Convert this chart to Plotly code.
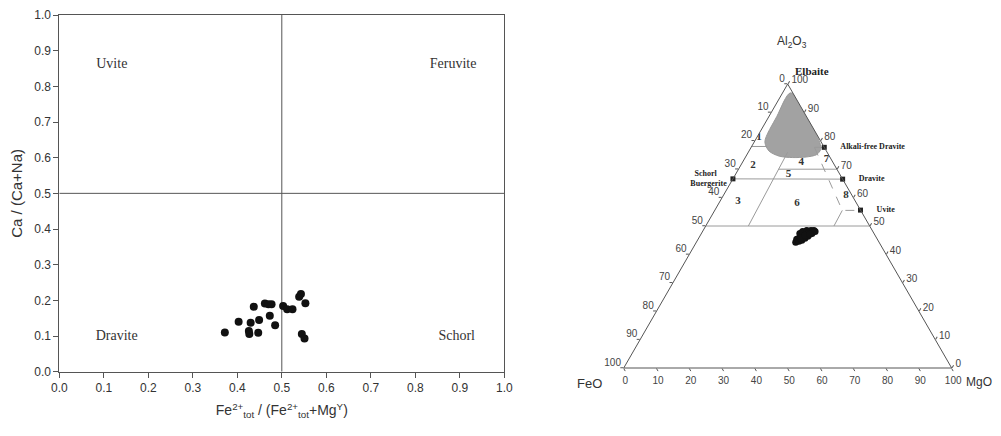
import plotly.graph_objects as go

# ---------------- Left panel: Ca/(Ca+Na) vs Fe/(Fe+Mg) ----------------
fe_ratio = [0.372, 0.403, 0.430, 0.426, 0.427, 0.447, 0.449, 0.437, 0.462, 0.470, 0.477,
            0.473, 0.485, 0.503, 0.512, 0.524, 0.539, 0.543, 0.553, 0.545, 0.551]
ca_ratio = [0.110, 0.140, 0.137, 0.114, 0.106, 0.109, 0.145, 0.182, 0.191, 0.189, 0.189,
            0.157, 0.130, 0.184, 0.175, 0.175, 0.210, 0.218, 0.192, 0.106, 0.093]

field_names = ["Uvite", "Feruvite", "Dravite", "Schorl"]
field_x = [0.118, 0.885, 0.129, 0.893]
field_y = [0.86, 0.86, 0.098, 0.098]

divider = 0.5
axis_ticks = [round(i * 0.1, 1) for i in range(11)]

# ---------------- Right panel: Al2O3 - FeO - MgO ternary ----------------
sample_al = [44.3, 45.3, 44.6, 46.0, 47.4, 45.0, 46.7, 48.1, 45.7, 47.4,
             48.4, 46.4, 47.7, 48.4, 47.4, 48.4, 48.1, 45.7, 46.7, 47.1]
sample_feo = [25.4, 24.6, 24.3, 23.3, 22.6, 23.2, 22.1, 21.4, 21.9, 20.8,
              20.0, 20.7, 19.7, 18.7, 18.9, 17.8, 17.6, 23.2, 21.4, 19.7]
sample_mgo = [30.3, 30.1, 31.1, 30.7, 30.0, 31.8, 31.2, 30.5, 32.4, 31.8,
              31.6, 33.0, 32.6, 32.9, 33.7, 33.8, 34.3, 31.1, 31.9, 33.2]

# shaded field (Al, FeO, MgO)
blob_al = [96.9, 79.5, 76.9, 75.1, 74.3, 74.1, 74.6, 76.4, 79.6, 88.7, 96.9]
blob_feo = [0.6, 0.5, 1.5, 3.7, 7.2, 11.4, 15.3, 17.5, 17.1, 9.0, 0.6]
blob_mgo = [2.5, 20.0, 21.6, 21.2, 18.5, 14.5, 10.1, 6.1, 3.2, 2.4, 2.5]

# field boundaries as (Al, FeO, MgO) vertices
solid_bounds = [
    [(50, 50, 0), (50, 0, 50)],
    [(66.6, 33.4, 0), (66.5, 0, 33.5)],
    [(70, 17.8, 12.2), (70, 0, 30)],
    [(78, 22, 0), (78, 17.3, 4.7)],
    [(50, 37, 13), (76, 12, 12)],
    [(77.7, 3.0, 19.3), (77.7, 0, 22.3)],
    [(55.5, 5.6, 38.9), (50, 10.9, 39.1)],
]
dashed_bounds = [
    [(77.7, 3.0, 19.3), (55.5, 5.6, 38.9), (55.5, 0, 44.5)],
]

region_labels = ["1", "2", "3", "4", "5", "6", "7", "8"]
region_al = [81.3, 71.4, 58.7, 72.3, 68.3, 58.1, 73.4, 60.7]
region_feo = [18.1, 24.9, 35.8, 9.7, 15.6, 18.1, 1.5, 1.9]
region_mgo = [0.6, 3.7, 5.5, 18.0, 16.1, 23.8, 25.1, 37.4]

em_names = ["Alkali-free Dravite", "Dravite", "Uvite", "Schorl<br>Buergerite"]
em_al = [77.7, 66.5, 55.6, 66.6]
em_feo = [0, 0, 0, 33.4]
em_mgo = [22.3, 33.5, 44.4, 0]
em_pos = ["middle right", "middle right", "middle right", "middle left"]

tern_ticks = list(range(0, 101, 10))
tern_text = [str(100 - v) for v in tern_ticks]

# ---------------- page geometry (browser body margin = 8 px) ----------------
OFF = 8
W, H = 1001 - 2 * OFF, 436 - 2 * OFF


def px(x):
    return (x - OFF) / W


def py(y):
    return 1 - (y - OFF) / H


NB = "\u00a0"

fig = go.Figure()

# left panel
fig.add_trace(go.Scatter(x=[divider, divider], y=[0, 1], mode="lines",
                         line=dict(color="#555", width=1), showlegend=False, hoverinfo="skip"))
fig.add_trace(go.Scatter(x=[0, 1], y=[divider, divider], mode="lines",
                         line=dict(color="#555", width=1), showlegend=False, hoverinfo="skip"))
fig.add_trace(go.Scatter(x=fe_ratio, y=ca_ratio, mode="markers",
                         marker=dict(color="#111", size=8), showlegend=False))
fig.add_trace(go.Scatter(x=field_x, y=field_y, mode="text", text=field_names,
                         textfont=dict(family="Liberation Serif", size=14, color="#333"),
                         showlegend=False))

# right panel
fig.add_trace(go.Scatterternary(a=blob_al, b=blob_feo, c=blob_mgo, mode="lines",
                                fill="toself", fillcolor="#a2a2a2",
                                line=dict(color="#999", width=1, shape="spline", smoothing=0.8),
                                showlegend=False, hoverinfo="skip"))
for seg in solid_bounds:
    fig.add_trace(go.Scatterternary(a=[p[0] for p in seg], b=[p[1] for p in seg],
                                    c=[p[2] for p in seg], mode="lines",
                                    line=dict(color="#9a9a9a", width=1),
                                    showlegend=False, hoverinfo="skip"))
for seg in dashed_bounds:
    fig.add_trace(go.Scatterternary(a=[p[0] for p in seg], b=[p[1] for p in seg],
                                    c=[p[2] for p in seg], mode="lines",
                                    line=dict(color="#9a9a9a", width=1, dash="dash"),
                                    showlegend=False, hoverinfo="skip"))
fig.add_trace(go.Scatterternary(a=region_al, b=region_feo, c=region_mgo, mode="text",
                                text=["<b>%s</b>" % t for t in region_labels],
                                textfont=dict(family="Liberation Serif", size=11, color="#333"),
                                showlegend=False, hoverinfo="skip"))
# FeO labels along the left edge (placed up-left of each tick, as in the original)
fig.add_trace(go.Scatterternary(a=tern_ticks, b=[100 - v for v in tern_ticks],
                                c=[0] * len(tern_ticks), mode="text",
                                text=[t + NB for t in tern_text],
                                textposition="top left", cliponaxis=False,
                                textfont=dict(family="Liberation Sans", size=10, color="#444"),
                                showlegend=False, hoverinfo="skip"))
labels = []
for name, pos in zip(em_names, em_pos):
    if "right" in pos:
        labels.append(NB * 6 + "<b>" + name + "</b>")
    else:
        top, bottom = name.split("<br>")
        labels.append("<b>" + top + "</b>" + NB * 6 + "<br><b>" + bottom + "</b>" + NB)
fig.add_trace(go.Scatterternary(a=em_al, b=em_feo, c=em_mgo, mode="markers+text",
                                text=labels, textposition=em_pos,
                                textfont=dict(family="Liberation Serif", size=8, color="#222"),
                                marker=dict(color="#222", size=5, symbol="square"),
                                cliponaxis=False, showlegend=False, hoverinfo="skip"))
fig.add_trace(go.Scatterternary(a=sample_al, b=sample_feo, c=sample_mgo, mode="markers",
                                marker=dict(color="#111", size=7), showlegend=False))

tern_axis = dict(tickmode="array", tickvals=tern_ticks, ticktext=tern_text,
                 showgrid=False, linecolor="#555", linewidth=1, ticks="outside",
                 ticklen=3, tickcolor="#555",
                 tickfont=dict(family="Liberation Sans", size=10, color="#444"),
                 title=dict(text=""))
a_axis = dict(tern_axis, showticklabels=False)

ann = dict(xref="paper", yref="paper", showarrow=False, xanchor="center", yanchor="middle")

fig.update_layout(
    width=W, height=H,
    margin=dict(l=0, r=0, t=0, b=0, autoexpand=False),
    paper_bgcolor="white", plot_bgcolor="white",
    font=dict(family="Liberation Sans", color="#333"),
    xaxis=dict(domain=[px(59.3), px(504.3)], range=[0, 1], tickvals=axis_ticks,
               tickformat=".1f", showline=True, mirror=True, linecolor="#555",
               ticks="outside", ticklen=5, tickcolor="#555", showgrid=False, zeroline=False,
               automargin=False, tickfont=dict(size=12, color="#333"),
               title=dict(text="Fe<sup>2+</sup><sub>tot</sub> / (Fe<sup>2+</sup><sub>tot</sub>+Mg<sup>Y</sup>)",
                          font=dict(size=14, color="#333"), standoff=11)),
    yaxis=dict(domain=[py(371.7), py(15)], range=[0, 1], tickvals=axis_ticks,
               tickformat=".1f", showline=True, mirror=True, linecolor="#555",
               ticks="outside", ticklen=5, tickcolor="#555", showgrid=False, zeroline=False,
               automargin=False, tickfont=dict(size=12, color="#333"),
               title=dict(text="Ca / (Ca+Na)", font=dict(size=15, color="#333"), standoff=8)),
    ternary=dict(domain=dict(x=[px(587.7), px(987.7)], y=[py(368), py(84)]),
                 sum=100, bgcolor="white",
                 aaxis=a_axis, baxis=tern_axis, caxis=tern_axis),
    annotations=[
        dict(ann, text="Al<sub>2</sub>O<sub>3</sub>", x=px(792), y=py(42),
             font=dict(size=12, color="#333")),
        dict(ann, text="FeO", x=px(589), y=py(383), font=dict(size=13, color="#333")),
        dict(ann, text="MgO", x=px(979), y=py(382), font=dict(size=12, color="#333")),
        dict(ann, text="<b>Elbaite</b>", x=px(811.5), y=py(71),
             font=dict(family="Liberation Serif", size=11, color="#222")),
    ],
)

fig.write_html("out.html")
